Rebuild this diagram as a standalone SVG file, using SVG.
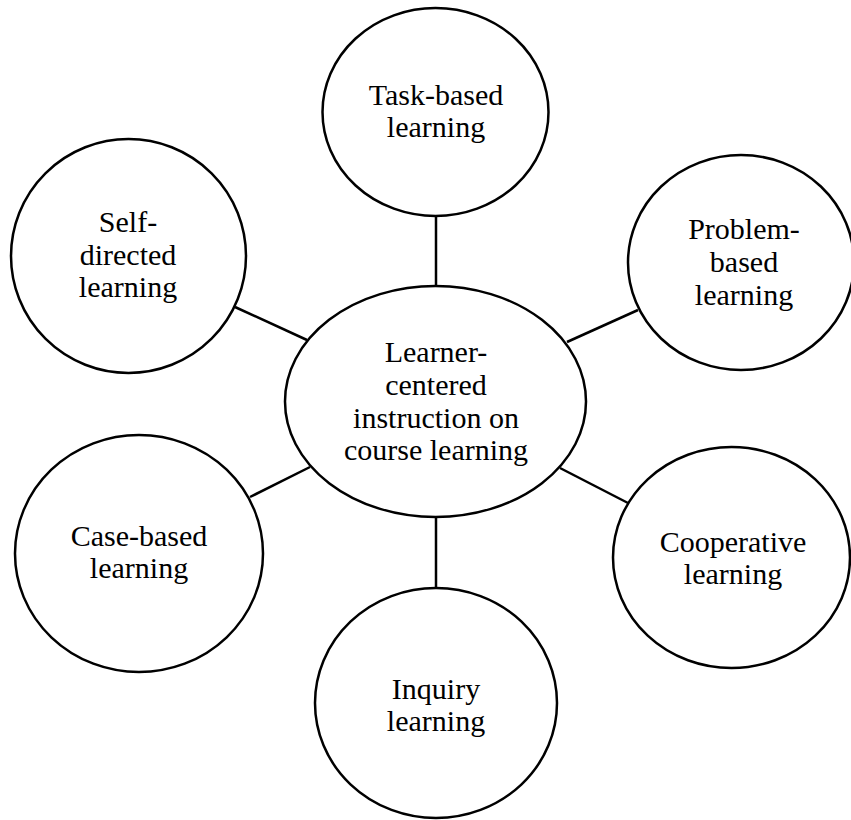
<svg xmlns="http://www.w3.org/2000/svg" width="851" height="820" viewBox="0 0 851 820">
<style>
.n{fill:#fff;stroke:#000;stroke-width:2.5}
.c line{stroke:#000;stroke-width:2.5}
text{font-family:"Liberation Serif","Times New Roman",serif;font-size:30px;fill:#000;text-anchor:middle}
</style>
<rect width="851" height="820" fill="#fff"/>
<g class="c" id="connectors">
<line x1="436" y1="216" x2="436" y2="286"/>
<line x1="567" y1="342" x2="638" y2="310"/>
<line x1="235" y1="307" x2="307" y2="340"/>
<line x1="250" y1="497" x2="310" y2="467"/>
<line x1="560" y1="468" x2="628" y2="503"/>
<line x1="436" y1="517" x2="436" y2="588"/>
</g>
<g id="center">
<ellipse class="n" cx="435.5" cy="401.5" rx="150.5" ry="115.5"/>
<text x="436" y="362">Learner-</text>
<text x="436" y="395">centered</text>
<text x="436" y="428">instruction on</text>
<text x="436" y="460">course learning</text>
</g>
<g id="task">
<ellipse class="n" cx="435.5" cy="112" rx="113" ry="104"/>
<text x="436" y="105">Task-based</text>
<text x="436" y="137">learning</text>
</g>
<g id="problem">
<ellipse class="n" cx="741" cy="262.5" rx="113" ry="107.5"/>
<text x="744" y="239">Problem-</text>
<text x="744" y="272">based</text>
<text x="744" y="305">learning</text>
</g>
<g id="self">
<ellipse class="n" cx="128.5" cy="256" rx="117.5" ry="117"/>
<text x="128" y="232">Self-</text>
<text x="128" y="265">directed</text>
<text x="128" y="297">learning</text>
</g>
<g id="case">
<ellipse class="n" cx="139" cy="553.5" rx="124" ry="118.5"/>
<text x="139" y="546">Case-based</text>
<text x="139" y="578">learning</text>
</g>
<g id="cooperative">
<ellipse class="n" cx="731.5" cy="557.5" rx="118.5" ry="110.5"/>
<text x="733" y="552">Cooperative</text>
<text x="733" y="584">learning</text>
</g>
<g id="inquiry">
<ellipse class="n" cx="436" cy="703" rx="121" ry="115"/>
<text x="436" y="699">Inquiry</text>
<text x="436" y="731">learning</text>
</g>
</svg>
